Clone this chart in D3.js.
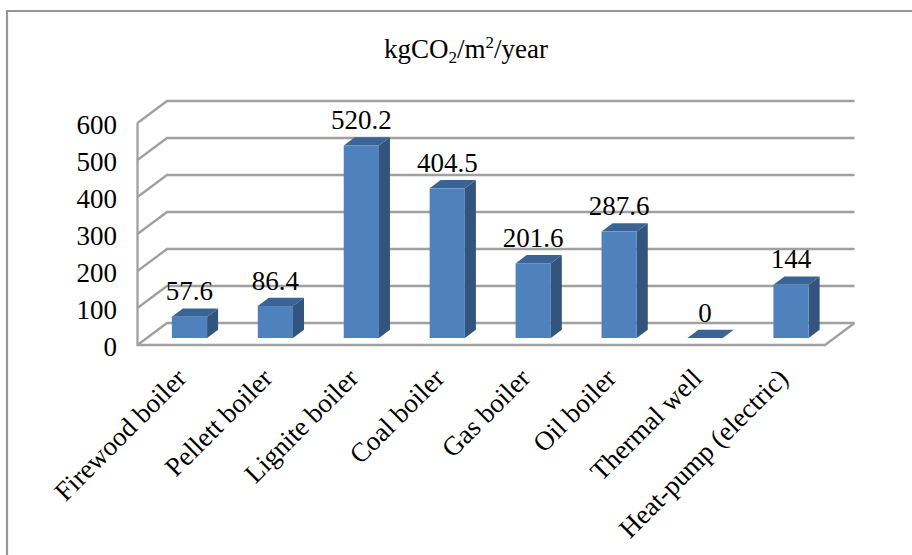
<!DOCTYPE html>
<html lang="en">
<head>
  <title>Emissions by heating system</title>
  <meta charset="utf-8">
  <script src="https://d3js.org/d3.v7.min.js"></script>
  <style>
    body { margin: 0; background: #fff; }
    svg { display: block; }
    text { font-family: "Liberation Serif", serif; fill: #000; }
  </style>
</head>
<body>
<svg id="chart" width="912" height="555"></svg>

<script>
var categories = ["Firewood boiler", "Pellett boiler", "Lignite boiler", "Coal boiler",
    "Gas boiler", "Oil boiler", "Thermal well", "Heat-pump (electric)"];
var values = [57.6, 86.4, 520.2, 404.5, 201.6, 287.6, 0, 144];
var valueLabels = ["57.6", "86.4", "520.2", "404.5", "201.6", "287.6", "0", "144"];
var yTicks = [0, 100, 200, 300, 400, 500, 600];

var svg = d3.select("#chart");

// plot box: front plane of the floor, and how far the back wall is shifted from it
var left = 137.5, right = 825, front0 = 345, front600 = 123;
var wallDx = 29.5, wallDy = -22;

var y = d3.scaleLinear().domain([0, 600]).range([front0, front600]);
var x = d3.scaleBand().domain(categories).range([left, right]).paddingInner(0.59).paddingOuter(0.295);

// bars stand in the middle of the floor depth
var barDx = 9, barDy = -7, depthDx = 11, depthDy = -8.3;

var grey = "#a0a0a0";
var labelSize = 27;

// outer frame (top and left only)
svg.append("path")
    .attr("d", "M7,555V11H912")
    .attr("fill", "none")
    .attr("stroke", "#969696")
    .attr("stroke-width", 2.2);

// gridlines on the side wall and back wall
var grid = svg.append("g").attr("fill", "none").attr("stroke", grey).attr("stroke-width", 2.3);
grid.selectAll("path.wall")
    .data(yTicks)
    .enter()
    .append("path")
    .attr("class", "wall")
    .attr("d", function(d) {
        var a = y(d);
        return "M" + left + "," + a + "L" + (left + wallDx) + "," + (a + wallDy) + "H" + (right + wallDx);
    });
grid.append("path")
    .attr("d", "M" + left + "," + y(600) + "V" + y(0) + "H" + right + "L" + (right + wallDx) + "," + (y(0) + wallDy));

// one group per bar: front face, side face, top face
var bars = svg.selectAll("g.bar")
    .data(values)
    .enter()
    .append("g")
    .attr("class", "bar")
    .attr("transform", function(d, i) {
        return "translate(" + (x(categories[i]) + barDx) + "," + barDy + ")";
    });

var w = x.bandwidth();

bars.append("path")
    .attr("fill", "#33547d")
    .attr("d", function(d) {
        return "M" + w + "," + y(d) + "l" + depthDx + "," + depthDy + "V" + (y(0) + depthDy) + "l" + (-depthDx) + "," + (-depthDy) + "Z";
    });

bars.append("path")
    .attr("fill", "#3b6496")
    .attr("d", function(d) {
        return "M0," + y(d) + "l" + depthDx + "," + depthDy + "h" + w + "l" + (-depthDx) + "," + (-depthDy) + "Z";
    });

bars.append("rect")
    .attr("fill", "#4f81bd")
    .attr("x", 0)
    .attr("width", w)
    .attr("y", function(d) { return y(d); })
    .attr("height", function(d) { return y(0) - y(d); });

// value labels over the bars
svg.selectAll("text.value")
    .data(values)
    .enter()
    .append("text")
    .attr("class", "value")
    .attr("text-anchor", "middle")
    .attr("font-size", labelSize)
    .attr("x", function(d, i) { return x(categories[i]) + barDx + w / 2; })
    .attr("y", function(d) { return y(d) + barDy + depthDy - 8; })
    .text(function(d, i) { return valueLabels[i]; });

// y axis labels
svg.selectAll("text.tick")
    .data(yTicks)
    .enter()
    .append("text")
    .attr("class", "tick")
    .attr("text-anchor", "end")
    .attr("font-size", labelSize)
    .attr("x", 117)
    .attr("y", function(d) { return y(d) + 10.5; })
    .text(function(d) { return d; });

// slanted category labels, right end tucked under each bar
svg.selectAll("text.cat")
    .data(categories)
    .enter()
    .append("text")
    .attr("class", "cat")
    .attr("text-anchor", "end")
    .attr("font-size", labelSize)
    .attr("transform", function(d) {
        return "translate(" + (x(d) + w / 2 + 7.5) + ",380) rotate(-45)";
    })
    .text(function(d) { return d; });

// title with sub and superscript
var title = svg.append("text")
    .attr("text-anchor", "middle")
    .attr("x", 466)
    .attr("y", 57.5)
    .attr("font-size", labelSize);
title.append("tspan").text("kgCO");
title.append("tspan").attr("font-size", 17).attr("dy", 5).text("2");
title.append("tspan").attr("dy", -5).text("/m");
title.append("tspan").attr("font-size", 17).attr("dy", -10).text("2");
title.append("tspan").attr("dy", 10).text("/year");
</script>

</body>
</html>
